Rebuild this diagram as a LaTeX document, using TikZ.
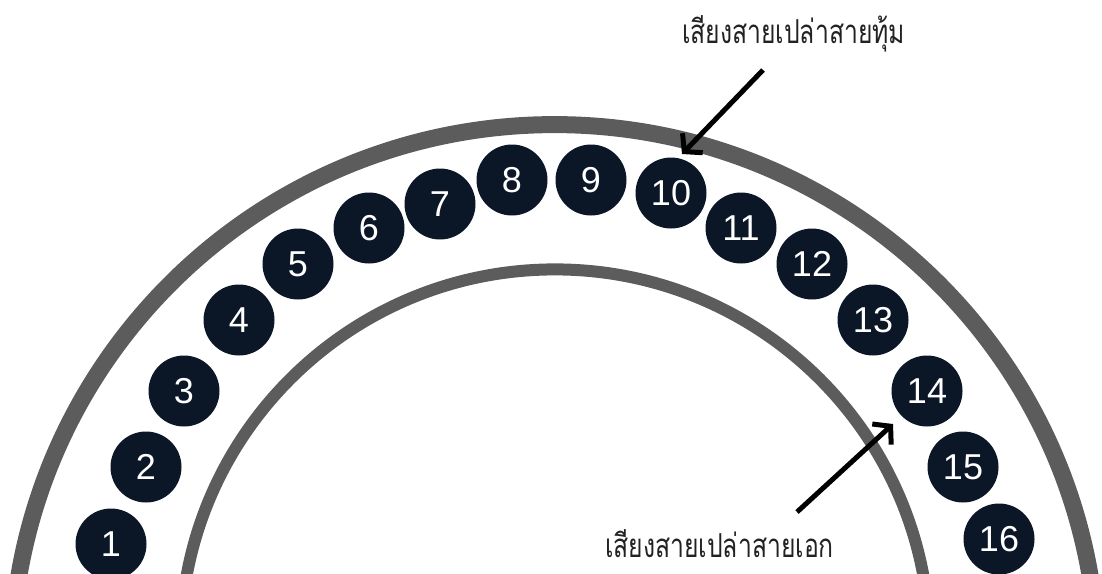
\documentclass[tikz,border=0pt]{standalone}
\usepackage{fontspec}
\setsansfont{Liberation Sans}
\newfontfamily\thaifont[Script=Thai]{Loma}
\usetikzlibrary{arrows.meta}
\definecolor{navy}{HTML}{0B1727}
\definecolor{band}{HTML}{5C5C5C}
\definecolor{ink}{HTML}{222222}
\tikzset{
  stringdot/.style={circle, fill=navy, minimum size=71pt, inner sep=0pt,
    text=white, font=\sffamily\fontsize{36}{36}\selectfont},
  thailabel/.style={text=ink, inner sep=0pt, xscale=0.75,
    font=\thaifont\fontsize{33}{36}\selectfont},
  pointer/.style={line width=5pt, draw=black, -{Straight Barb[length=12pt,width=28pt]}}
}
\begin{document}
\begin{tikzpicture}[x=1pt,y=-1pt]
  \useasboundingbox (0,0) rectangle (1102,573);
  \begin{scope}
    \clip (0,0) rectangle (1102,573);
    % outer and inner rims
    \draw[band, line width=17pt] (554.5,668) circle[radius=543.4];
    \draw[band, line width=12pt] (555,644) circle[radius=374.6];
  \end{scope}
  % the sixteen strings
  \node[stringdot] (n1)  at (111,544) {1};
  \node[stringdot] (n2)  at (146,467) {2};
  \node[stringdot] (n3)  at (184,391) {3};
  \node[stringdot] (n4)  at (239,320) {4};
  \node[stringdot] (n5)  at (298,264) {5};
  \node[stringdot] (n6)  at (369,228) {6};
  \node[stringdot] (n7)  at (440,204) {7};
  \node[stringdot] (n8)  at (512,180) {8};
  \node[stringdot] (n9)  at (591,180) {9};
  \node[stringdot] (n10) at (671,193) {10};
  \node[stringdot] (n11) at (741,228) {11};
  \node[stringdot] (n12) at (812,264) {12};
  \node[stringdot] (n13) at (873,320) {13};
  \node[stringdot] (n14) at (927,391) {14};
  \node[stringdot] (n15) at (963,467) {15};
  \node[stringdot] (n16) at (999,539) {16};
  % labels
  \node[thailabel, anchor=west] (lowlbl) at (682,34) {เสียงสายเปล่าสายทุ้ม};
  \node[thailabel, anchor=west] (highlbl) at (605,544) {เสียงสายเปล่าสายเอก};
  % pointers
  \coordinate (lowtail) at (763,70);
  \coordinate (lowtip) at (682,154);
  \coordinate (hightail) at (797,512);
  \coordinate (hightip) at (893,424);
  \draw[pointer] (lowtail) -- (lowtip);
  \draw[pointer] (hightail) -- (hightip);
\end{tikzpicture}
\end{document}
